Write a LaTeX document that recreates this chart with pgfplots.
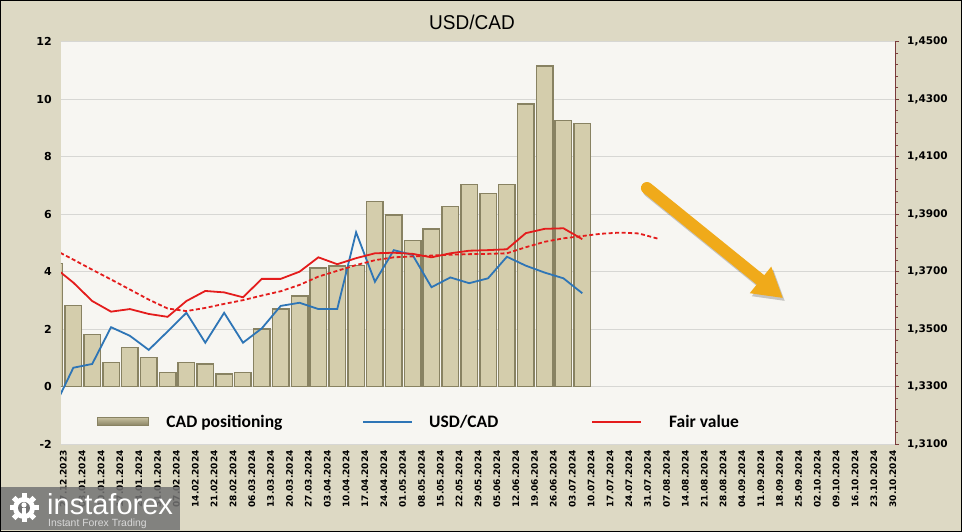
\documentclass[border=0pt]{standalone}
\usepackage{fontspec}
\setmainfont{DejaVu Sans}
\newfontfamily\lgfont{Carlito}
\newfontfamily\titlefont[FakeStretch=0.95]{Liberation Sans}
\newfontfamily\logofont{Liberation Sans}
\usepackage{pgfplots}
\usepackage{pgfplotstable}
\pgfplotsset{compat=1.18}
\usetikzlibrary{arrows.meta}

\definecolor{outerbg}{RGB}{221,217,196}
\definecolor{plotbg}{RGB}{247,246,242}
\definecolor{gridc}{RGB}{215,215,212}
\definecolor{usdblue}{RGB}{46,117,182}
\definecolor{fairred}{RGB}{228,28,28}
\definecolor{bardark}{RGB}{136,130,98}
\definecolor{barlight}{RGB}{212,205,172}
\definecolor{arrowc}{RGB}{240,170,26}
\definecolor{axred}{RGB}{122,59,59}

% CAD positioning (left axis)
\pgfplotstableread{
k pos
0 4.29
1 2.82
2 1.82
3 0.85
4 1.36
5 1.01
6 0.50
7 0.85
8 0.79
9 0.44
10 0.50
11 2.01
12 2.70
13 3.15
14 4.12
15 4.20
16 4.22
17 6.45
18 5.98
19 5.08
20 5.48
21 6.26
22 7.04
23 6.72
24 7.04
25 9.83
26 11.16
27 9.26
28 9.16
}\posdata

% USD/CAD and fair value (right axis)
\pgfplotstableread{
k usdcad fair
0 1.3230 1.3715
1 1.3366 1.3662
2 1.3379 1.3598
3 1.3507 1.3561
4 1.3477 1.3570
5 1.3428 1.3553
6 1.3492 1.3543
7 1.3557 1.3598
8 1.3453 1.3633
9 1.3557 1.3628
10 1.3453 1.3611
11 1.3503 1.3675
12 1.3581 1.3675
13 1.3592 1.3700
14 1.3570 1.3750
15 1.3570 1.3726
16 1.3837 1.3747
17 1.3665 1.3764
18 1.3775 1.3766
19 1.3758 1.3762
20 1.3646 1.3750
21 1.3680 1.3764
22 1.3660 1.3773
23 1.3677 1.3775
24 1.3752 1.3778
25 1.3721 1.3834
26 1.3697 1.3849
27 1.3677 1.3851
28 1.3625 1.3813
}\linedata

% fair value trend (dashed)
\pgfplotstableread{
k trend
0 1.3776
1 1.3742
2 1.3707
3 1.3673
4 1.3638
5 1.3603
6 1.3572
7 1.3563
8 1.3574
9 1.3588
10 1.3601
11 1.3617
12 1.3632
13 1.3654
14 1.3683
15 1.3703
16 1.3723
17 1.3740
18 1.3750
19 1.3753
20 1.3756
21 1.3759
22 1.3761
23 1.3762
24 1.3764
25 1.3785
26 1.3804
27 1.3816
28 1.3824
29 1.3832
30 1.3836
31 1.3833
32 1.3815
}\trenddata

\begin{document}
\begin{tikzpicture}[x=1pt,y=1pt]
\useasboundingbox (0,0) rectangle (962,532);
\fill[outerbg] (0,0) rectangle (962,532);
\node[font=\titlefont\fontsize{20}{20}\selectfont] at (472,510) {USD/CAD};

\begin{axis}[
  at={(61pt,87.8pt)}, anchor=south west, scale only axis,
  width=834pt, height=402.5pt,
  xmin=0.345, xmax=44.59, ymin=-2, ymax=12,
  axis background/.style={fill=plotbg},
  axis line style={draw=none}, major tick length=0pt,
  xtick={0.47,1.47,...,44.5},
  xticklabels={27.12.2023,03.01.2024,10.01.2024,17.01.2024,24.01.2024,31.01.2024,07.02.2024,14.02.2024,21.02.2024,28.02.2024,06.03.2024,13.03.2024,20.03.2024,27.03.2024,03.04.2024,10.04.2024,17.04.2024,24.04.2024,01.05.2024,08.05.2024,15.05.2024,22.05.2024,29.05.2024,05.06.2024,12.06.2024,19.06.2024,26.06.2024,03.07.2024,10.07.2024,17.07.2024,24.07.2024,31.07.2024,07.08.2024,14.08.2024,21.08.2024,28.08.2024,04.09.2024,11.09.2024,18.09.2024,25.09.2024,02.10.2024,09.10.2024,16.10.2024,23.10.2024,30.10.2024},
  xticklabel style={rotate=90, anchor=east, inner sep=0pt, font=\bfseries\fontsize{9}{9}\selectfont},
  xticklabel shift=6pt,
  ytick={-2,0,...,12},
  ymajorgrids, grid style={gridc, line width=0.8pt},
  yticklabel style={anchor=east, inner sep=0pt, font=\bfseries\fontsize{11}{11}\selectfont},
  yticklabel shift=9pt,
  /pgf/number format/assume math mode=true,
  ybar, bar width=16.5pt,
]
\addplot[draw=bardark, line width=1.5pt, fill=barlight]
  table[x=k, y=pos] {\posdata};
% annotation arrow
\draw[black, opacity=0.2, line width=12pt, line cap=round, -{Triangle[length=29pt,width=32pt]}]
  ([shift={(2pt,-3pt)}]axis cs:31.43,6.91) -- ([shift={(2pt,-3pt)}]axis cs:38.65,3.08);
\draw[arrowc, line width=12pt, line cap=round, -{Triangle[length=29pt,width=32pt]}]
  (axis cs:31.43,6.91) -- (axis cs:38.65,3.08);
\end{axis}

\begin{axis}[
  at={(61pt,87.8pt)}, anchor=south west, scale only axis,
  width=834pt, height=402.5pt,
  xmin=0.345, xmax=44.59, ymin=1.31, ymax=1.45,
  axis x line=none, axis y line*=right,
  y axis line style={axred, line width=0.8pt},
  ytick={1.31,1.33,1.35,1.37,1.39,1.41,1.43,1.45},
  minor y tick num=4,
  tick align=outside, major tick length=4pt, minor tick length=3pt,
  tick style={axred, line width=0.6pt},
  yticklabel style={anchor=west, inner sep=0pt, font=\bfseries\fontsize{10.5}{10.5}\selectfont,
    /pgf/number format/.cd, fixed, fixed zerofill, precision=4, use comma, 1000 sep={}},
  yticklabel shift=8pt,
  /pgf/number format/assume math mode=true,
  legend columns=3,
  legend cell align=left,
  legend image code/.code={\draw[#1] (0pt,0pt) -- (49pt,0pt);},
  legend style={at={(axis description cs:0.043,0.056)}, anchor=west, draw=none, fill=none,
    inner sep=0pt, nodes={inner sep=0pt},
    font=\lgfont\bfseries\fontsize{17.5}{17.5}\selectfont,
    /tikz/column 1/.style={column sep=18pt},
    /tikz/column 2/.style={column sep=80pt},
    /tikz/column 3/.style={column sep=16pt},
    /tikz/column 4/.style={column sep=93pt},
    /tikz/column 5/.style={column sep=27pt}},
]
\addlegendimage{legend image code/.code={\fill[bardark, top color=barlight!80!bardark, bottom color=bardark] (0pt,-4pt) rectangle (51pt,4pt);}}
\addlegendentry{CAD positioning}
\addplot[usdblue, line width=1.8pt] table[x=k, y=usdcad] {\linedata};
\addlegendentry{USD/CAD}
\addplot[fairred, line width=1.8pt] table[x=k, y=fair] {\linedata};
\addlegendentry{Fair value}
\addplot[fairred, line width=1.8pt, dash pattern=on 4pt off 2.5pt, forget plot] table[x=k, y=trend] {\trenddata};
\end{axis}

% watermark logo
\fill[black!55, opacity=0.85] (0,2) rectangle (180,45);
\begin{scope}[white]
  \foreach \a in {0,45,...,315}
    \fill[rotate around={\a:(24,24)}] (21.5,33) rectangle (26.5,38.5);
  \fill (24,24) circle (11);
  \fill[black!55] (24,24) circle (6);
  \fill (22,14) rectangle (26,24);
  \fill (24,27) circle (2.6);
\end{scope}
\node[anchor=base west, inner sep=0pt, white, font=\logofont\fontsize{29}{29}\selectfont] at (47,17) {instaforex};
\node[anchor=base west, inner sep=0pt, white!85!black, font=\logofont\fontsize{10.4}{10.4}\selectfont] at (48,5) {Instant Forex Trading};
\draw[black, line width=1pt] (0.5,0.5) rectangle (961.5,531.5);
\end{tikzpicture}
\end{document}
